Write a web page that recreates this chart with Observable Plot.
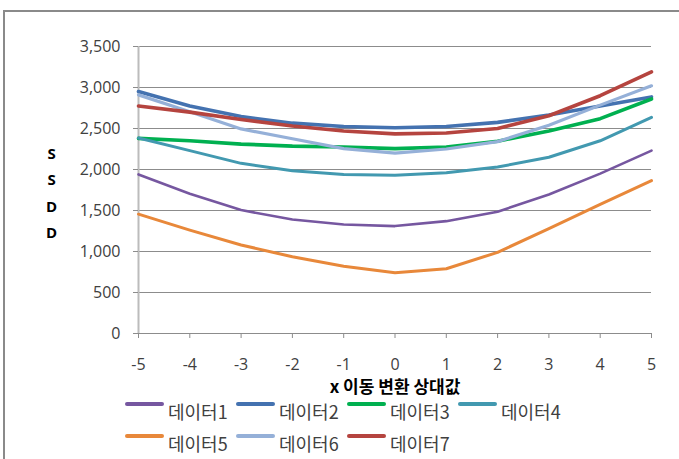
<!DOCTYPE html>
<html>
<head>
<meta charset="utf-8">
<script src="https://cdn.jsdelivr.net/npm/d3@7"></script>
<script src="https://cdn.jsdelivr.net/npm/@observablehq/plot@0.6"></script>
<style>
  body { margin: 0; background: #fff; }
  #frame { position: absolute; left: 3px; top: 10px; width: 740px; height: 520px;
           border: 2px solid #8a8a8a; box-sizing: border-box; }
  #wrap { position: absolute; left: 0; top: 0; width: 679px; }
  #legend { position: relative; padding-left: 125px; width: 554px; margin-top: -5px; }
  .row { display: flex; height: 32px; align-items: center; }
  .item { display: flex; align-items: center; width: 111px; }
  .sw { display: inline-block; width: 39px; border-radius: 2px; position: relative; }
  .lab { font-family: "Noto Sans CJK KR", sans-serif; font-size: 18px; color: #404040;
         margin-left: 4px; white-space: nowrap; line-height: 1; }
</style>
</head>
<body>
<div id="frame"></div>
<div id="wrap">
  <div id="chart"></div>
  <div id="legend"></div>
</div>
<script>
// x shift values and tick labels
const xValues = [-5, -4, -3, -2, -1, 0, 1, 2, 3, 4, 5];
const yTicks = [0, 500, 1000, 1500, 2000, 2500, 3000, 3500];

// SSDD per series
const data1 = [1940, 1705, 1505, 1390, 1330, 1310, 1370, 1485, 1695, 1950, 2230];
const data2 = [2950, 2775, 2645, 2565, 2525, 2510, 2525, 2575, 2665, 2775, 2885];
const data3 = [2380, 2350, 2310, 2285, 2275, 2255, 2275, 2345, 2470, 2620, 2860];
const data4 = [2385, 2230, 2075, 1985, 1940, 1930, 1960, 2030, 2150, 2350, 2635];
const data5 = [1455, 1260, 1080, 935, 820, 740, 790, 990, 1280, 1575, 1865];
const data6 = [2910, 2705, 2495, 2375, 2255, 2200, 2250, 2340, 2540, 2785, 3020];
const data7 = [2775, 2700, 2610, 2530, 2470, 2435, 2445, 2500, 2655, 2900, 3190];

const seriesNames = ["데이터1", "데이터2", "데이터3", "데이터4", "데이터5", "데이터6", "데이터7"];
const seriesValues = [data1, data2, data3, data4, data5, data6, data7];
const seriesColors = ["#7657a0", "#4472b0", "#00b050", "#4299b0", "#e8883a", "#95b0d8", "#b5443f"];
const seriesWidths = [2.6, 3.6, 3.6, 3, 3, 3.2, 3.6];

const xTitle = "x 이동 변환 상대값";
const yTitle = "S\nS\nD\nD";

const rows = seriesNames.flatMap((name, i) =>
  xValues.map((x, j) => ({ name, x, y: seriesValues[i][j] })));

const chart = Plot.plot({
  width: 679,
  height: 400,
  marginLeft: 138,
  marginRight: 28,
  marginTop: 46,
  marginBottom: 67,
  style: { fontFamily: "'Open Sans', sans-serif", fontSize: "16px", color: "#404040", background: "transparent" },
  x: { domain: [-5, 5], label: null },
  y: { domain: [0, 3500], label: null },
  marks: [
    Plot.gridY(yTicks, { stroke: "#8c8c8c", strokeOpacity: 1 }),
    Plot.ruleX([-5], { stroke: "#bcbcbc", strokeWidth: 2 }),
    Plot.ruleY([0], { stroke: "#8c8c8c" }),
    Plot.axisY({ ticks: yTicks, tickFormat: d3.format(","), tickSize: 5, tickPadding: 13,
                 stroke: "#8c8c8c", label: null }),
    Plot.axisX({ ticks: xValues, tickFormat: d => String(d), tickSize: 5, tickPadding: 20,
                 stroke: "#8c8c8c", label: null }),
    ...seriesNames.map((name, i) =>
      Plot.line(rows.filter(d => d.name === name), {
        x: "x", y: "y", stroke: seriesColors[i], strokeWidth: seriesWidths[i],
        strokeLinejoin: "round", strokeLinecap: "round"
      })),
    Plot.text([yTitle], { frameAnchor: "left", textAnchor: "middle", dx: -87, dy: 0,
      fontWeight: "bold", fontSize: 15, lineHeight: 1.75, fill: "#000",
      fontFamily: "'Open Sans', sans-serif" }),
    Plot.text([xTitle], { frameAnchor: "bottom", textAnchor: "middle", dy: 59,
      fontWeight: "bold", fontSize: 17, fill: "#000",
      fontFamily: "'Noto Sans CJK KR', sans-serif" })
  ]
});
document.getElementById("chart").appendChild(chart);

// legend: four entries per row
const legend = document.getElementById("legend");
const perRow = 4;
for (let r = 0; r * perRow < seriesNames.length; r++) {
  const row = document.createElement("div");
  row.className = "row";
  seriesNames.slice(r * perRow, r * perRow + perRow).forEach((name, k) => {
    const i = r * perRow + k;
    const item = document.createElement("div");
    item.className = "item";
    const sw = document.createElement("span");
    sw.className = "sw";
    sw.style.height = seriesWidths[i] + 1 + "px";
    sw.style.background = seriesColors[i];
    sw.style.top = "-7px";
    const lab = document.createElement("span");
    lab.className = "lab";
    lab.textContent = name;
    item.appendChild(sw);
    item.appendChild(lab);
    row.appendChild(item);
  });
  legend.appendChild(row);
}
</script>
</body>
</html>
